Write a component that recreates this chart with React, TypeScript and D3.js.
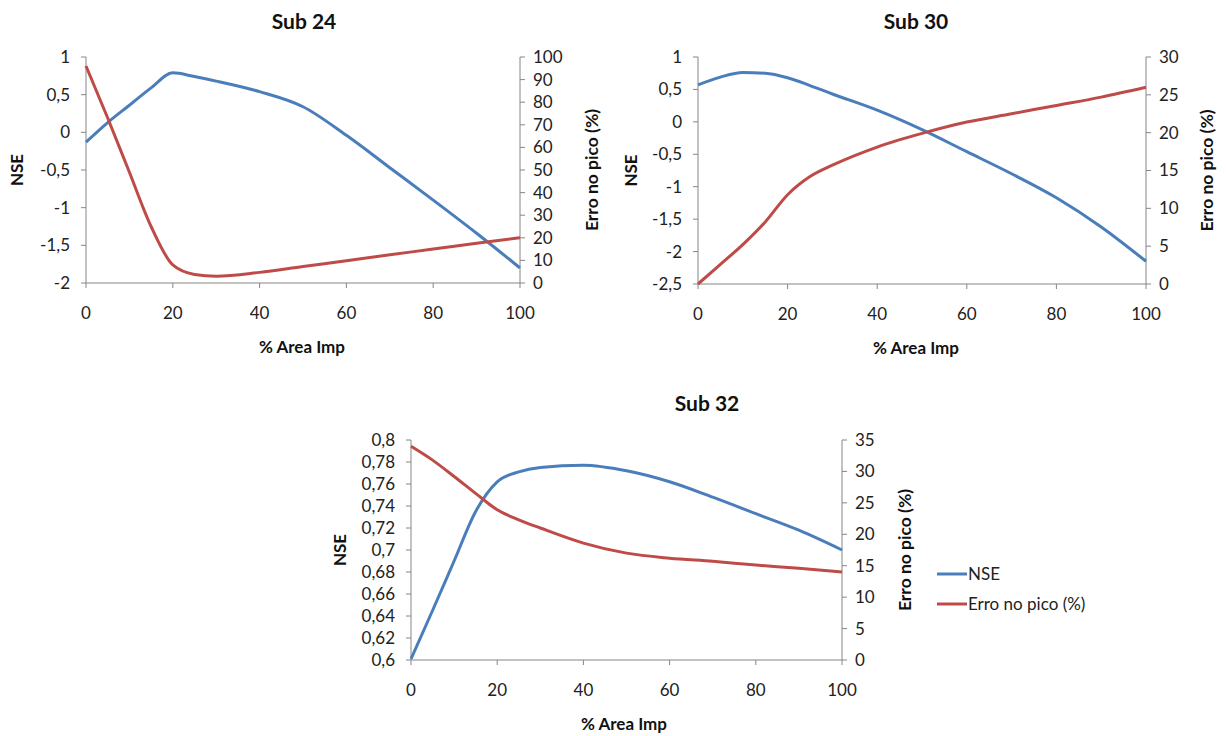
import * as d3 from "d3";

// shared x positions (% area impermeavel)
const areaImp = [0, 5, 10, 15, 20, 25, 30, 40, 50, 60, 70, 80, 90, 100];
const xTicks = [0, 20, 40, 60, 80, 100];

// Sub 24
const nse24 = [-0.13, 0.13, 0.36, 0.59, 0.79, 0.74, 0.68, 0.54, 0.34, -0.04, -0.47, -0.9, -1.34, -1.8];
const erro24 = [96, 73, 49, 25, 8, 3.8, 3, 4.7, 7.3, 9.8, 12.5, 15, 17.6, 20];
const nseTicks24 = [1, 0.5, 0, -0.5, -1, -1.5, -2];
const erroTicks24 = [100, 90, 80, 70, 60, 50, 40, 30, 20, 10, 0];

// Sub 30
const nse30 = [0.57, 0.69, 0.76, 0.75, 0.68, 0.56, 0.43, 0.18, -0.12, -0.46, -0.8, -1.17, -1.62, -2.15];
const erro30 = [0, 2.6, 5.2, 8.2, 11.8, 14.2, 15.7, 18.1, 19.9, 21.4, 22.5, 23.6, 24.7, 26];
const nseTicks30 = [1, 0.5, 0, -0.5, -1, -1.5, -2, -2.5];
const erroTicks30 = [30, 25, 20, 15, 10, 5, 0];

// Sub 32
const nse32 = [0.601, 0.645, 0.69, 0.735, 0.762, 0.771, 0.775, 0.777, 0.772, 0.762, 0.748, 0.733, 0.718, 0.7];
const erro32 = [34, 31.8, 29.2, 26.5, 23.9, 22.3, 21, 18.6, 17, 16.2, 15.7, 15.1, 14.6, 14];
const nseTicks32 = [0.8, 0.78, 0.76, 0.74, 0.72, 0.7, 0.68, 0.66, 0.64, 0.62, 0.6];
const erroTicks32 = [35, 30, 25, 20, 15, 10, 5, 0];

const BLUE = "#4a7ebb";
const RED = "#be4b48";
const AXIS = "#868686";
const FONT = "Lato, 'Open Sans', sans-serif";

const fmt = (v: number) => String(+v.toFixed(3)).replace(".", ",");

type PanelProps = {
  title: string;
  box: { x0: number; x1: number; y0: number; y1: number };
  nse: number[];
  erro: number[];
  nseTicks: number[];
  erroTicks: number[];
  titleX: number;
  xTitleX: number;
  titleY: number;
  nseLabelX: number;
  erroLabelX: number;
};

function Panel(p: PanelProps) {
  const { box } = p;
  const x = d3.scaleLinear().domain([0, 100]).range([box.x0, box.x1]);
  const yL = d3
    .scaleLinear()
    .domain(d3.extent(p.nseTicks) as [number, number])
    .range([box.y1, box.y0]);
  const yR = d3
    .scaleLinear()
    .domain(d3.extent(p.erroTicks) as [number, number])
    .range([box.y1, box.y0]);

  const lineL = d3
    .line<number>()
    .x((_, i) => x(areaImp[i]))
    .y((d) => yL(d))
    .curve(d3.curveMonotoneX);
  const lineR = d3
    .line<number>()
    .x((_, i) => x(areaImp[i]))
    .y((d) => yR(d))
    .curve(d3.curveMonotoneX);

  const midY = (box.y0 + box.y1) / 2;

  return (
    <g fontFamily={FONT}>
      <text x={p.titleX} y={p.titleY} textAnchor="middle" fontWeight="bold" fontSize={21} fill="#111">
        {p.title}
      </text>

      {/* axes */}
      <line x1={box.x0} x2={box.x0} y1={box.y0} y2={box.y1} stroke={AXIS} />
      <line x1={box.x1} x2={box.x1} y1={box.y0} y2={box.y1} stroke={AXIS} />
      <line x1={box.x0} x2={box.x1} y1={box.y1} y2={box.y1} stroke={AXIS} />

      {p.nseTicks.map((t) => (
        <g key={"l" + t}>
          <line x1={box.x0 - 5} x2={box.x0} y1={yL(t)} y2={yL(t)} stroke={AXIS} />
          <text x={box.x0 - 16} y={yL(t)} dy="0.35em" textAnchor="end" fontSize={17} fill="#222">
            {fmt(t)}
          </text>
        </g>
      ))}
      {p.erroTicks.map((t) => (
        <g key={"r" + t}>
          <line x1={box.x1} x2={box.x1 + 5} y1={yR(t)} y2={yR(t)} stroke={AXIS} />
          <text x={box.x1 + 13} y={yR(t)} dy="0.35em" textAnchor="start" fontSize={17} fill="#222">
            {fmt(t)}
          </text>
        </g>
      ))}
      {xTicks.map((t) => (
        <g key={"x" + t}>
          <line x1={x(t)} x2={x(t)} y1={box.y1} y2={box.y1 + 5} stroke={AXIS} />
          <text x={x(t)} y={box.y1 + 30} dy="0.35em" textAnchor="middle" fontSize={17} fill="#222">
            {t}
          </text>
        </g>
      ))}

      <text x={p.xTitleX} y={box.y1 + 64} dy="0.35em" textAnchor="middle" fontWeight="bold" fontSize={17} fill="#111">
        % Area Imp
      </text>
      <text
        transform={`translate(${p.nseLabelX},${midY}) rotate(-90)`}
        dy="0.35em"
        textAnchor="middle"
        fontWeight="bold"
        fontSize={17}
        fill="#111"
      >
        NSE
      </text>
      <text
        transform={`translate(${p.erroLabelX},${midY}) rotate(-90)`}
        dy="0.35em"
        textAnchor="middle"
        fontWeight="bold"
        fontSize={17.5}
        fill="#111"
      >
        Erro no pico (%)
      </text>

      <path d={lineL(p.nse) ?? ""} fill="none" stroke={BLUE} strokeWidth={3} />
      <path d={lineR(p.erro) ?? ""} fill="none" stroke={RED} strokeWidth={3} />
    </g>
  );
}

export default function App() {
  return (
    <svg
      width={1226}
      height={736}
      style={{ position: "absolute", left: 0, top: 0, background: "#fff" }}
    >
      <Panel
        title="Sub 24"
        box={{ x0: 86, x1: 520, y0: 57, y1: 283 }}
        nse={nse24}
        erro={erro24}
        nseTicks={nseTicks24}
        erroTicks={erroTicks24}
        titleX={304}
        titleY={29}
        xTitleX={302}
        nseLabelX={17}
        erroLabelX={592}
      />
      <Panel
        title="Sub 30"
        box={{ x0: 698, x1: 1146, y0: 57, y1: 284 }}
        nse={nse30}
        erro={erro30}
        nseTicks={nseTicks30}
        erroTicks={erroTicks30}
        titleX={916}
        titleY={29}
        xTitleX={916}
        nseLabelX={631}
        erroLabelX={1207}
      />
      <Panel
        title="Sub 32"
        box={{ x0: 411, x1: 842, y0: 440, y1: 660 }}
        nse={nse32}
        erro={erro32}
        nseTicks={nseTicks32}
        erroTicks={erroTicks32}
        titleX={707}
        titleY={411}
        xTitleX={624}
        nseLabelX={340}
        erroLabelX={905}
      />

      {/* legend */}
      <g fontFamily={FONT} fontSize={17} fill="#222">
        <line x1={937} x2={967} y1={574} y2={574} stroke={BLUE} strokeWidth={3} />
        <text x={968} y={574} dy="0.35em">NSE</text>
        <line x1={937} x2={967} y1={604} y2={604} stroke={RED} strokeWidth={3} />
        <text x={968} y={604} dy="0.35em">Erro no pico (%)</text>
      </g>
    </svg>
  );
}
